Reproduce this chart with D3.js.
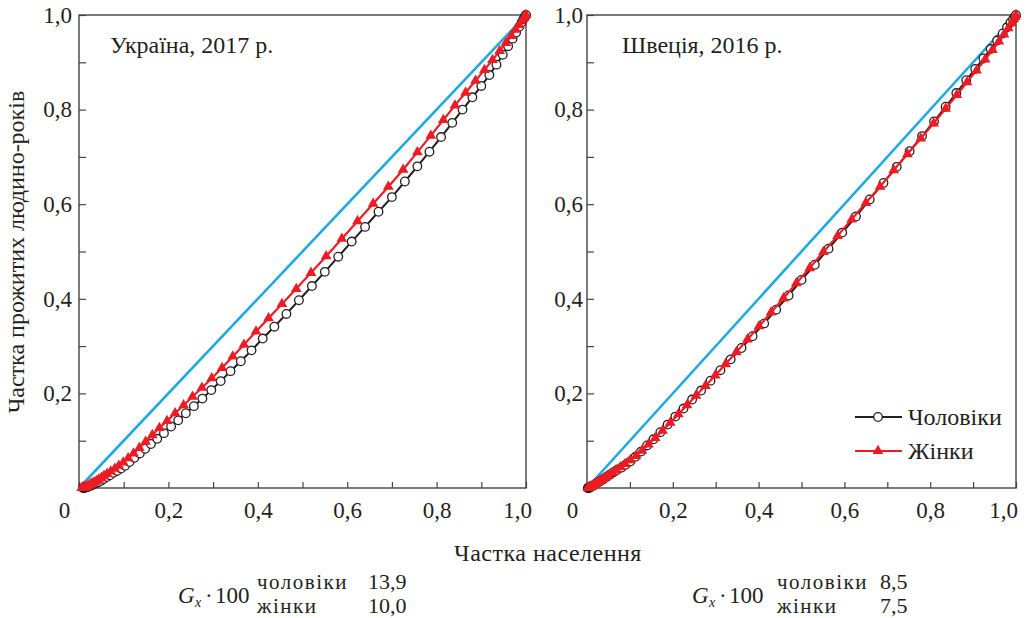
<!DOCTYPE html>
<html>
<head>
<meta charset="utf-8">
<script src="https://cdn.jsdelivr.net/npm/d3@7"></script>
<style>
  body { margin: 0; background: #fff; }
  svg { display: block; font-family: "Liberation Serif", "DejaVu Serif", serif; }
</style>
</head>
<body>
<svg id="chart" width="1026" height="618"></svg>
<script>
// Україна, 2017 р. — чоловіки (x: частка населення, y: частка прожитих людино-років)
const uaMen = [[0.009,0.000],[0.011,0.000],[0.012,0.001],[0.013,0.001],[0.015,0.001],[0.017,0.002],[0.019,0.002],[0.022,0.003],[0.025,0.004],[0.029,0.006],[0.033,0.008],[0.038,0.010],[0.043,0.012],[0.049,0.015],[0.055,0.019],[0.062,0.023],[0.069,0.027],[0.077,0.032],[0.085,0.036],[0.094,0.041],[0.103,0.047],[0.113,0.055],[0.124,0.064],[0.136,0.073],[0.148,0.083],[0.161,0.093],[0.175,0.104],[0.190,0.116],[0.206,0.130],[0.222,0.143],[0.239,0.158],[0.257,0.173],[0.276,0.189],[0.296,0.207],[0.317,0.226],[0.339,0.247],[0.362,0.268],[0.386,0.291],[0.411,0.316],[0.437,0.341],[0.464,0.368],[0.492,0.397],[0.521,0.427],[0.550,0.457],[0.580,0.489],[0.610,0.521],[0.640,0.552],[0.670,0.584],[0.700,0.615],[0.729,0.648],[0.757,0.680],[0.784,0.711],[0.810,0.742],[0.835,0.772],[0.858,0.800],[0.880,0.826],[0.900,0.850],[0.918,0.873],[0.934,0.895],[0.948,0.916],[0.960,0.934],[0.970,0.950],[0.978,0.963],[0.985,0.975],[0.990,0.984],[0.994,0.991],[0.997,0.996],[0.999,0.999],[1.000,1.000]];

// Україна, 2017 р. — жінки
const uaWomen = [[0.006,0.000],[0.007,0.000],[0.008,0.000],[0.009,0.001],[0.010,0.001],[0.011,0.001],[0.013,0.002],[0.015,0.002],[0.017,0.003],[0.020,0.004],[0.023,0.006],[0.026,0.008],[0.030,0.010],[0.034,0.012],[0.039,0.015],[0.044,0.018],[0.050,0.022],[0.056,0.026],[0.063,0.030],[0.071,0.035],[0.080,0.041],[0.089,0.047],[0.099,0.054],[0.110,0.063],[0.122,0.073],[0.135,0.085],[0.149,0.098],[0.164,0.112],[0.180,0.127],[0.197,0.142],[0.215,0.158],[0.234,0.175],[0.254,0.193],[0.275,0.212],[0.297,0.232],[0.320,0.254],[0.344,0.278],[0.369,0.303],[0.396,0.331],[0.424,0.359],[0.454,0.389],[0.486,0.421],[0.519,0.455],[0.553,0.490],[0.588,0.527],[0.623,0.564],[0.658,0.601],[0.692,0.637],[0.725,0.673],[0.757,0.710],[0.787,0.745],[0.815,0.778],[0.841,0.809],[0.865,0.836],[0.887,0.861],[0.907,0.884],[0.925,0.905],[0.941,0.924],[0.955,0.941],[0.967,0.956],[0.977,0.969],[0.985,0.979],[0.991,0.988],[0.995,0.994],[0.998,0.998],[1.000,1.000]];

// Швеція, 2016 р. — чоловіки
const seMen = [[0.002,0.000],[0.003,0.000],[0.004,0.000],[0.005,0.001],[0.006,0.001],[0.007,0.001],[0.008,0.002],[0.010,0.003],[0.012,0.004],[0.014,0.005],[0.016,0.006],[0.019,0.008],[0.022,0.010],[0.026,0.012],[0.030,0.014],[0.035,0.017],[0.040,0.020],[0.046,0.024],[0.053,0.028],[0.061,0.033],[0.070,0.038],[0.080,0.043],[0.090,0.049],[0.101,0.056],[0.113,0.066],[0.126,0.077],[0.140,0.090],[0.155,0.103],[0.171,0.118],[0.188,0.134],[0.206,0.151],[0.225,0.168],[0.245,0.187],[0.266,0.206],[0.288,0.227],[0.311,0.249],[0.335,0.272],[0.360,0.296],[0.386,0.321],[0.413,0.348],[0.441,0.377],[0.470,0.407],[0.500,0.440],[0.531,0.472],[0.563,0.506],[0.595,0.540],[0.627,0.574],[0.659,0.610],[0.691,0.645],[0.722,0.679],[0.752,0.712],[0.781,0.744],[0.809,0.775],[0.836,0.806],[0.861,0.835],[0.884,0.862],[0.905,0.886],[0.924,0.908],[0.941,0.928],[0.956,0.946],[0.969,0.961],[0.979,0.974],[0.987,0.984],[0.993,0.991],[0.997,0.996],[1.000,1.000]];

// Швеція, 2016 р. — жінки
const seWomen = [[0.002,0.000],[0.003,0.000],[0.004,0.001],[0.005,0.001],[0.006,0.002],[0.008,0.002],[0.010,0.003],[0.012,0.004],[0.014,0.005],[0.017,0.007],[0.020,0.009],[0.024,0.011],[0.028,0.013],[0.033,0.016],[0.038,0.019],[0.044,0.023],[0.051,0.027],[0.059,0.032],[0.068,0.038],[0.078,0.044],[0.089,0.051],[0.101,0.059],[0.114,0.068],[0.128,0.079],[0.143,0.092],[0.159,0.106],[0.176,0.121],[0.194,0.138],[0.213,0.156],[0.233,0.175],[0.254,0.195],[0.276,0.216],[0.299,0.238],[0.323,0.262],[0.348,0.287],[0.374,0.314],[0.401,0.342],[0.429,0.371],[0.458,0.401],[0.488,0.433],[0.519,0.465],[0.551,0.499],[0.584,0.533],[0.617,0.568],[0.650,0.603],[0.683,0.637],[0.715,0.672],[0.747,0.706],[0.778,0.739],[0.808,0.771],[0.836,0.802],[0.862,0.831],[0.886,0.858],[0.908,0.883],[0.928,0.906],[0.945,0.926],[0.960,0.944],[0.972,0.959],[0.982,0.972],[0.990,0.983],[0.995,0.991],[0.998,0.996],[1.000,1.000]];

// лінія рівності
const equality = [[0, 0], [1, 1]];

const panelTitles = ["Україна, 2017 р.", "Швеція, 2016 р."];
const giniMen = ["13,9", "8,5"];
const giniWomen = ["10,0", "7,5"];
const seriesNames = ["Чоловіки", "Жінки"];
const xTicks = [0.1, 0.2, 0.3, 0.4, 0.5, 0.6, 0.7, 0.8, 0.9, 1.0];
const yTicks = [0.1, 0.2, 0.3, 0.4, 0.5, 0.6, 0.7, 0.8, 0.9, 1.0];

const ink = "#231f20";
const blue = "#1fa9e1";
const red = "#ed1c24";

const svg = d3.select("#chart");
svg.append("rect").attr("width", 1026).attr("height", 618).attr("fill", "#fff");

const panels = [
    { left: 79, right: 526, men: uaMen, women: uaWomen, yPad: 7, zeroDx: -15, oneDx: -9, title: panelTitles[0], titleX: 110 },
    { left: 587, right: 1016, men: seMen, women: seWomen, yPad: 4, zeroDx: -15, oneDx: -13, title: panelTitles[1], titleX: 622 },
];
const plotTop = 15, plotBottom = 488;
const fmt = d => d3.format(".1f")(d).replace(".", ",");

panels.forEach(p => {
    const x = d3.scaleLinear().domain([0, 1]).range([p.left, p.right]);
    const y = d3.scaleLinear().domain([0, 1]).range([plotBottom, plotTop]);
    const g = svg.append("g");

    // осі з внутрішніми рисками
    const xAxis = g.append("g")
        .attr("transform", `translate(0,${plotBottom})`)
        .call(d3.axisBottom(x).tickValues([0].concat(xTicks)).tickSize(-6).tickPadding(14)
            .tickFormat(d => d === 0 ? "0" : (Math.round(d * 10) % 2 === 0 ? fmt(d) : "")));
    xAxis.selectAll("text").attr("font-size", 23).attr("font-family", "Liberation Serif").attr("fill", ink)
        .attr("dx", d => d === 0 ? p.zeroDx : (d === 1 ? p.oneDx : 0));

    const yAxis = g.append("g")
        .attr("transform", `translate(${p.left},0)`)
        .call(d3.axisLeft(y).tickValues(yTicks).tickSize(-7).tickPadding(p.yPad)
            .tickFormat(d => Math.round(d * 10) % 2 === 0 ? fmt(d) : ""));
    yAxis.selectAll("text").attr("font-size", 23).attr("font-family", "Liberation Serif").attr("fill", ink);

    [xAxis, yAxis].forEach(a => {
        a.select(".domain").remove();
        a.selectAll("line").attr("stroke", "#444").attr("stroke-width", 1.2);
    });

    g.append("rect")
        .attr("x", p.left).attr("y", plotTop)
        .attr("width", p.right - p.left).attr("height", plotBottom - plotTop)
        .attr("fill", "none").attr("stroke", "#444").attr("stroke-width", 1.4);

    const line = d3.line().x(d => x(d[0])).y(d => y(d[1]));

    g.append("path").datum(equality).attr("d", line)
        .attr("fill", "none").attr("stroke", blue).attr("stroke-width", 2.6);

    g.append("path").datum(p.men).attr("d", line)
        .attr("fill", "none").attr("stroke", ink).attr("stroke-width", 2);
    g.selectAll(".men").data(p.men).join("circle")
        .attr("class", "men")
        .attr("cx", d => x(d[0])).attr("cy", d => y(d[1])).attr("r", 4.3)
        .attr("fill", "#fff").attr("stroke", ink).attr("stroke-width", 1.3);

    g.append("path").datum(p.women).attr("d", line)
        .attr("fill", "none").attr("stroke", red).attr("stroke-width", 2.2);
    const tri = d3.symbol().type(d3.symbolTriangle).size(50);
    g.selectAll(".women").data(p.women).join("path")
        .attr("class", "women")
        .attr("d", tri)
        .attr("transform", d => `translate(${x(d[0])},${y(d[1])})`)
        .attr("fill", red);

    g.append("text").attr("x", p.titleX).attr("y", 53)
        .attr("font-size", 24).attr("fill", ink).text(p.title);
});

// підписи осей
svg.append("text").attr("x", 548).attr("y", 561).attr("text-anchor", "middle")
    .attr("font-size", 24).attr("letter-spacing", 0.5).attr("fill", ink).text("Частка населення");
svg.append("text").attr("transform", "translate(24,252) rotate(-90)").attr("text-anchor", "middle")
    .attr("font-size", 24).attr("fill", ink).text("Частка прожитих людино-років");

// легенда
const legend = svg.append("g").attr("transform", "translate(855,417)");
seriesNames.forEach((name, i) => {
    const row = legend.append("g").attr("transform", `translate(0,${i * 34})`);
    row.append("line").attr("x1", 0).attr("x2", 47)
        .attr("stroke", i === 0 ? ink : red).attr("stroke-width", 2);
    if (i === 0) {
        row.append("circle").attr("cx", 23).attr("r", 4.3)
            .attr("fill", "#fff").attr("stroke", ink).attr("stroke-width", 1.3);
    } else {
        row.append("path").attr("d", d3.symbol().type(d3.symbolTriangle).size(50)())
            .attr("transform", "translate(23,0)").attr("fill", red);
    }
    row.append("text").attr("x", 53).attr("y", 8)
        .attr("font-size", 24).attr("fill", ink).text(name);
});

// коефіцієнти Джині
const giniPos = [{ gx: 178, lx: 257, vx: 368 }, { gx: 692, lx: 777, vx: 880 }];
giniPos.forEach((pos, i) => {
    const t = svg.append("text").attr("y", 603).attr("font-size", 23).attr("fill", ink);
    t.append("tspan").attr("x", pos.gx).attr("font-style", "italic").text("G");
    t.append("tspan").attr("x", pos.gx + 17).attr("font-style", "italic").attr("font-size", 14).attr("dy", 4).text("x");
    t.append("tspan").attr("x", pos.gx + 27).attr("dy", -4).text("·");
    t.append("tspan").attr("x", pos.gx + 37).text("100");
    svg.append("text").attr("x", pos.lx).attr("y", 589).attr("font-size", 21).attr("letter-spacing", 1.5).attr("fill", ink).text("чоловіки");
    svg.append("text").attr("x", pos.lx).attr("y", 613).attr("font-size", 21).attr("letter-spacing", 1.5).attr("fill", ink).text("жінки");
    svg.append("text").attr("x", pos.vx).attr("y", 589).attr("font-size", 22).attr("fill", ink).text(giniMen[i]);
    svg.append("text").attr("x", pos.vx).attr("y", 613).attr("font-size", 22).attr("fill", ink).text(giniWomen[i]);
});
</script>
</body>
</html>
